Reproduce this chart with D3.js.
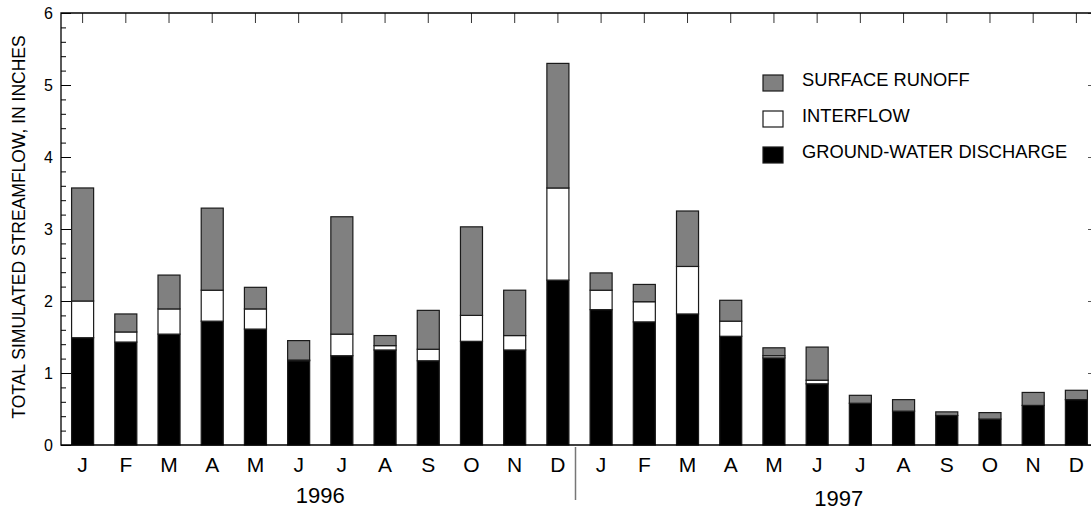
<!DOCTYPE html>
<html>
<head>
<meta charset="utf-8">
<script src="https://cdn.jsdelivr.net/npm/d3@7"></script>
<style>
  html, body { margin: 0; padding: 0; background: #fff; }
  svg { display: block; font-family: "Liberation Sans", Arial, Helvetica, sans-serif; }
</style>
</head>
<body>
<svg id="chart" width="1091" height="510"></svg>
<script>
// Monthly simulated streamflow components, in inches, Jan 1996 – Dec 1997
const months = ["J","F","M","A","M","J","J","A","S","O","N","D",
                "J","F","M","A","M","J","J","A","S","O","N","D"];
const years = ["1996", "1997"];
const groundWater = [1.49,1.43,1.54,1.72,1.61,1.17,1.24,1.32,1.17,1.44,1.32,2.29,
                     1.88,1.71,1.82,1.51,1.21,0.85,0.58,0.47,0.41,0.36,0.55,0.63];
const interflow   = [0.51,0.14,0.35,0.43,0.28,0.01,0.30,0.06,0.16,0.36,0.20,1.28,
                     0.27,0.28,0.66,0.21,0.03,0.05,0.00,0.00,0.00,0.00,0.00,0.00];
const surfaceRunoff = [1.57,0.25,0.47,1.14,0.30,0.27,1.63,0.14,0.54,1.23,0.63,1.73,
                       0.24,0.24,0.77,0.29,0.11,0.46,0.11,0.16,0.05,0.09,0.18,0.13];
const yTicks = [0, 1, 2, 3, 4, 5, 6];
const legendLabels = ["SURFACE RUNOFF", "INTERFLOW", "GROUND-WATER DISCHARGE"];

const svg = d3.select("#chart");
const plotLeft = 61, plotRight = 1098, plotTop = 13, plotBottom = 445;

const rows = months.map((m, i) => ({
  i, ground: groundWater[i], inter: interflow[i], runoff: surfaceRunoff[i]
}));
const keys = ["ground", "inter", "runoff"];
const fills = { ground: "#000000", inter: "#ffffff", runoff: "#808080" };

const x = d3.scaleBand().domain(d3.range(months.length)).range([plotLeft, plotRight])
  .paddingInner(0.49).paddingOuter(0.245);
const y = d3.scaleLinear().domain([0, 6]).range([plotBottom, plotTop]);

const stack = d3.stack().keys(keys)(rows);

// stacked bars
const g = svg.append("g");
stack.forEach(layer => {
  g.append("g").selectAll("rect").data(layer).join("rect")
    .attr("x", d => x(d.data.i))
    .attr("width", x.bandwidth())
    .attr("y", d => y(d[1]))
    .attr("height", d => Math.max(0, y(d[0]) - y(d[1])))
    .attr("fill", fills[layer.key])
    .attr("stroke", d => (d[1] - d[0]) > 0 ? "#1a1a1a" : "none")
    .attr("stroke-width", 1.2);
});

const axisFont = "Liberation Sans, Arial, sans-serif";

// left axis: major ticks with labels
const yAxis = svg.append("g").attr("transform", `translate(${plotLeft},0)`)
  .call(d3.axisLeft(y).tickValues(yTicks).tickSizeInner(-10).tickSizeOuter(0)
    .tickPadding(8).tickFormat(d3.format("d")));
yAxis.select(".domain").remove();
yAxis.selectAll("text").attr("font-size", 16).attr("font-family", axisFont).attr("fill", "#000");
yAxis.selectAll("line").attr("stroke", "#000");

// left axis: minor ticks
const minor = d3.range(0, 6.001, 0.2).filter(v => Math.abs(v - Math.round(v)) > 1e-6);
const yMinor = svg.append("g").attr("transform", `translate(${plotLeft},0)`)
  .call(d3.axisLeft(y).tickValues(minor).tickSizeInner(-5).tickSizeOuter(0).tickFormat(""));
yMinor.select(".domain").remove();
yMinor.selectAll("line").attr("stroke", "#000");

// right axis: major ticks only
const yRight = svg.append("g").attr("transform", `translate(${plotRight},0)`)
  .call(d3.axisRight(y).tickValues(yTicks).tickSizeInner(-10).tickSizeOuter(0).tickFormat(""));
yRight.select(".domain").remove();
yRight.selectAll("line").attr("stroke", "#555");

// top axis: ticks at month centres
const xTop = svg.append("g").attr("transform", `translate(0,${plotTop})`)
  .call(d3.axisTop(x).tickSizeInner(-10).tickSizeOuter(0).tickFormat(""));
xTop.select(".domain").remove();
xTop.selectAll("line").attr("stroke", "#333");

// bottom axis: month letters
const xBottom = svg.append("g").attr("transform", `translate(0,${plotBottom})`)
  .call(d3.axisBottom(x).tickSize(0).tickPadding(12).tickFormat(i => months[i]));
xBottom.select(".domain").remove();
xBottom.selectAll("text").attr("font-size", 21).attr("font-family", axisFont).attr("fill", "#000");

// frame
svg.append("path")
  .attr("d", `M${plotRight},${plotTop}H${plotLeft}V${plotBottom}H${plotRight}V${plotTop}`)
  .attr("fill", "none").attr("stroke", "#000").attr("stroke-width", 1.3);

// year labels centred under each year's months, with a divider between years
years.forEach((yr, k) => {
  const first = x(k * 12) + x.bandwidth() / 2;
  const last = x(k * 12 + 11) + x.bandwidth() / 2;
  svg.append("text")
    .attr("x", (first + last) / 2)
    .attr("y", k === 0 ? 503 : 506)
    .attr("text-anchor", "middle")
    .attr("font-size", 22)
    .attr("fill", "#000")
    .text(yr);
});
const divX = (x(11) + x.bandwidth() + x(12)) / 2 - 4;
svg.append("line")
  .attr("x1", divX).attr("x2", divX).attr("y1", 447).attr("y2", 500)
  .attr("stroke", "#777").attr("stroke-width", 1.5);

// y-axis title
svg.append("text")
  .attr("transform", `translate(25,${(plotTop + plotBottom) / 2 - 2}) rotate(-90)`)
  .attr("text-anchor", "middle")
  .attr("font-size", 17.5)
  .attr("fill", "#000")
  .text("TOTAL SIMULATED STREAMFLOW, IN INCHES");

// legend
const legendKeys = ["runoff", "inter", "ground"];
const legend = svg.append("g").attr("transform", "translate(763,75)");
legendKeys.forEach((key, k) => {
  const row = legend.append("g").attr("transform", `translate(0,${k * 36})`);
  row.append("rect")
    .attr("width", 20).attr("height", 16)
    .attr("fill", fills[key]).attr("stroke", "#1a1a1a").attr("stroke-width", 1.2);
  row.append("text")
    .attr("x", 39).attr("y", 10.5)
    .attr("font-size", 18.3)
    .attr("fill", "#000")
    .text(legendLabels[k]);
});
</script>
</body>
</html>
